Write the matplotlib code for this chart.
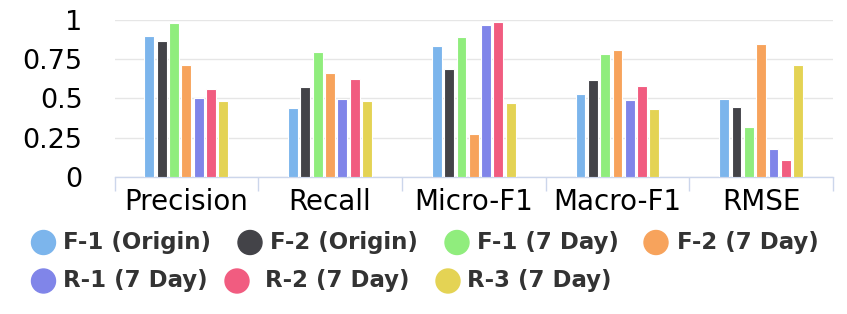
import numpy as np
import matplotlib
matplotlib.use("Agg")
import matplotlib.pyplot as plt
from matplotlib.patches import Ellipse

categories = ["Precision", "Recall", "Micro-F1", "Macro-F1", "RMSE"]
series_names = ["F-1 (Origin)", "F-2 (Origin)", "F-1 (7 Day)", "F-2 (7 Day)",
                "R-1 (7 Day)", "R-2 (7 Day)", "R-3 (7 Day)"]
f1_origin = [0.898, 0.436, 0.833, 0.530, 0.496]
f2_origin = [0.862, 0.572, 0.684, 0.614, 0.445]
f1_7day = [0.975, 0.792, 0.890, 0.784, 0.318]
f2_7day = [0.714, 0.659, 0.275, 0.805, 0.843]
r1_7day = [0.502, 0.496, 0.962, 0.487, 0.176]
r2_7day = [0.557, 0.621, 0.983, 0.578, 0.106]
r3_7day = [0.481, 0.481, 0.472, 0.430, 0.714]
yticks = [0, 0.25, 0.5, 0.75, 1]
ytick_labels = ["0", "0.25", "0.5", "0.75", "1"]

colors = ["#7cb5ec", "#434348", "#90ed7d", "#f7a35c", "#8085e9", "#f15c80", "#e4d354"]
series = [f1_origin, f2_origin, f1_7day, f2_7day, r1_7day, r2_7day, r3_7day]

W, H = 847, 314
fig = plt.figure(figsize=(W / 100, H / 100), dpi=100)
ax = fig.add_axes([114.5 / W, 1 - 177 / H, (833 - 114.5) / W, (177 - 19.5) / H])

n = len(series)
x = np.arange(len(categories))
group = 0.6
slot = group / n
for i, (vals, c) in enumerate(zip(series, colors)):
    pos = x - group / 2 + slot * (i + 0.5)
    ax.bar(pos, vals, width=slot * 0.8, color=c, edgecolor="white", linewidth=0.8, zorder=3)

ax.set_xlim(-0.5, len(categories) - 0.5)
ax.set_ylim(0, 1)
ax.set_yticks(yticks)
ax.set_yticklabels(ytick_labels, fontsize=19.5, color="black")
ax.tick_params(axis="y", length=0, pad=23)
ax.grid(axis="y", color="#e6e6e6", linewidth=1, zorder=0)
ax.set_xticks(x)
ax.set_xticklabels(categories, fontsize=20, color="black")
ax.tick_params(axis="x", length=0, pad=8)
ax.set_xticks(np.arange(len(categories) + 1) - 0.5, minor=True)
ax.tick_params(axis="x", which="minor", length=10, color="#ccd6eb", width=1)
for s in ["top", "right", "left"]:
    ax.spines[s].set_visible(False)
ax.spines["bottom"].set_color("#ccd6eb")
ax.spines["bottom"].set_linewidth(1)

# legend drawn by hand in pixel coordinates
leg_rows = [
    [(43.5, 63), (250, 270), (457, 477), (656, 677)],
    [(43.5, 63), (237, 265), (448, 467)],
]
row_y = [242.5, 281]
k = 0
for r, row in enumerate(leg_rows):
    for cx, tx in row:
        yy = H - row_y[r]
        e = Ellipse((cx, yy), 24, 24, transform=None, color=colors[k], zorder=5)
        fig.patches.append(e)
        fig.text(tx / W, yy / H, series_names[k], fontsize=16.5, fontweight="bold",
                 color="#333333", va="center", ha="left")
        k += 1

fig.savefig("out.png", dpi=100)
